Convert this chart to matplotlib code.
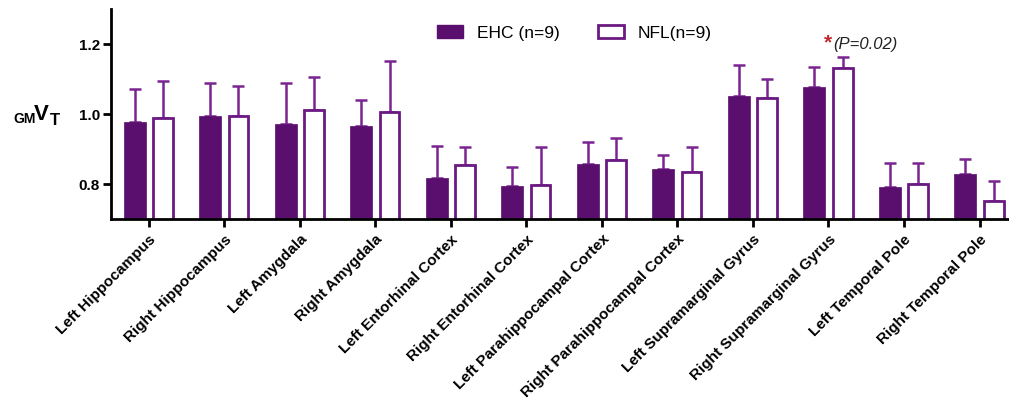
import matplotlib
matplotlib.use("Agg")
import matplotlib.pyplot as plt
import numpy as np
from matplotlib.patches import Patch

regions = ["Left Hippocampus", "Right Hippocampus", "Left Amygdala", "Right Amygdala",
           "Left Entorhinal Cortex", "Right Entorhinal Cortex",
           "Left Parahippocampal Cortex", "Right Parahippocampal Cortex",
           "Left Supramarginal Gyrus", "Right Supramarginal Gyrus",
           "Left Temporal Pole", "Right Temporal Pole"]
ehc_mean = [0.976, 0.995, 0.971, 0.966, 0.817, 0.795, 0.857, 0.843, 1.052, 1.076, 0.791, 0.827]
ehc_sd   = [0.096, 0.094, 0.118, 0.074, 0.091, 0.053, 0.062, 0.040, 0.088, 0.057, 0.068, 0.043]
nfl_mean = [0.988, 0.995, 1.011, 1.004, 0.854, 0.797, 0.869, 0.835, 1.045, 1.131, 0.801, 0.750]
nfl_sd   = [0.106, 0.085, 0.095, 0.148, 0.051, 0.108, 0.063, 0.070, 0.054, 0.032, 0.058, 0.058]
yticks = [0.8, 1.0, 1.2]

plt.rcParams['font.family'] = ['Liberation Sans', 'DejaVu Sans']

fill_c = '#5a0f6e'
edge_c = '#6b1a82'
err_c = '#7a2490'

W, H = 1009, 414
fig = plt.figure(figsize=(W / 100, H / 100), dpi=100)
ax = fig.add_axes([0.110, 0.469, 0.890, 0.507])

x = np.arange(len(regions))
off = 0.188
w = 0.29
ax.bar(x - off, ehc_mean, w, color=fill_c, edgecolor=fill_c, linewidth=0.5, zorder=2)
ax.bar(x + off, nfl_mean, w - 0.03, color='white', edgecolor=edge_c, linewidth=2.0, zorder=2)
ax.errorbar(x - off, ehc_mean, yerr=[np.zeros(len(x)), ehc_sd], fmt='none',
            ecolor=err_c, elinewidth=1.8, capsize=4.5, capthick=1.8, zorder=1)
ax.errorbar(x + off, nfl_mean, yerr=[np.zeros(len(x)), nfl_sd], fmt='none',
            ecolor=err_c, elinewidth=1.8, capsize=4.5, capthick=1.8, zorder=1)

ax.set_xlim(-0.5, 11.39)
ax.set_ylim(0.70, 1.30)
ax.set_yticks(yticks)
ax.set_yticklabels([f"{v:.1f}" for v in yticks], fontsize=11, fontweight='bold')
ax.set_xticks(x)
ax.set_xticklabels(regions, rotation=45, ha='right', rotation_mode='anchor',
                   fontsize=11, fontweight='bold')
for s in ['top', 'right']:
    ax.spines[s].set_visible(False)
for s in ['left', 'bottom']:
    ax.spines[s].set_linewidth(2)
ax.tick_params(axis='both', width=2, length=6, direction='out')
ax.tick_params(axis='x', pad=3)
ax.tick_params(axis='y', pad=2)

# y-axis label  GM V T  (prefix subscript, main letter, suffix subscript)
fig.text(13 / W, 1 - 123 / H, 'GM', fontsize=10, fontweight='bold', ha='left', va='baseline')
fig.text(34 / W, 1 - 120 / H, 'V', fontsize=16, fontweight='bold', ha='left', va='baseline')
fig.text(50 / W, 1 - 125 / H, 'T', fontsize=12, fontweight='bold', ha='left', va='baseline')

handles = [Patch(facecolor=fill_c, edgecolor=fill_c, label='EHC (n=9)'),
           Patch(facecolor='white', edgecolor=edge_c, linewidth=2, label='NFL(n=9)')]
ax.legend(handles=handles, loc='upper center', bbox_to_anchor=(0.516, 1.0), ncol=2,
          frameon=False, fontsize=12.5, handlelength=1.5, handleheight=0.85,
          columnspacing=2.2, handletextpad=0.8)

ax.text(8.99, 1.205, '*', color='#c0282d', fontsize=15, fontweight='bold', ha='center', va='center')
ax.text(9.06, 1.200, '(P=0.02)', fontsize=12, style='italic', ha='left', va='center', color='#222222')

fig.savefig('out.png', dpi=100)
